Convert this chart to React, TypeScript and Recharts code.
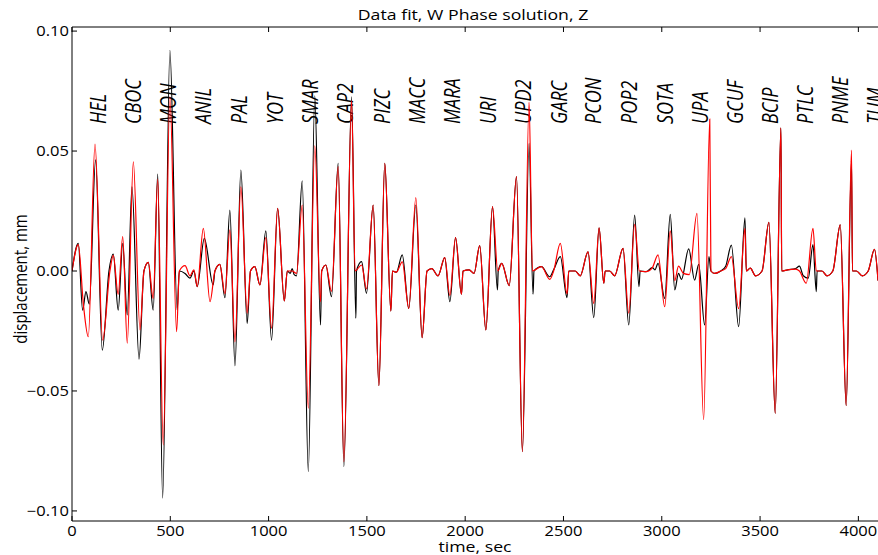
import { LineChart, Line, XAxis, YAxis, ReferenceLine } from "recharts";

// observed trace (black), seconds / mm
const obsTime = [
  0, 32, 54, 71, 88, 120, 154, 188, 210, 235, 258, 281, 305, 341, 366, 388, 413, 436, 461, 498,
  535, 546, 575, 600, 620, 637, 673, 718, 727, 752, 778, 803, 829, 859, 891, 908, 930, 956, 986,
  1015, 1046, 1080, 1095, 1110, 1120, 1130, 1142, 1171, 1202, 1235, 1264, 1270, 1291, 1320, 1354,
  1383, 1422, 1444, 1447, 1473, 1498, 1532, 1561, 1591, 1622, 1630, 1650, 1680, 1713, 1749, 1781,
  1806, 1830, 1862, 1896, 1922, 1951, 1981, 1989, 2020, 2045, 2074, 2105, 2139, 2164, 2168, 2186,
  2224, 2261, 2291, 2325, 2345, 2350, 2388, 2430, 2450, 2484, 2518, 2527, 2560, 2585, 2625, 2654,
  2681, 2705, 2712, 2735, 2760, 2803, 2832, 2862, 2884, 2890, 2920, 2952, 2965, 2981, 3015, 3043,
  3066, 3085, 3100, 3137, 3167, 3188, 3218, 3240, 3250, 3269, 3300, 3325, 3354, 3391, 3423, 3430,
  3450, 3477, 3510, 3545, 3577, 3606, 3610, 3640, 3680, 3700, 3720, 3745, 3769, 3786, 3790, 3815,
  3840, 3870, 3908, 3938, 3965, 3970, 3990, 4020, 4050, 4082, 4100,
];
const obsDisp = [
  0, 0.0115, -0.0163, -0.0086, -0.0138, 0.0463, -0.033, 0, 0.007, -0.0163, 0.0115, -0.0183, 0.0351,
  -0.0367, 0, 0.0036, -0.0163, 0.0404, -0.0947, 0.092, -0.0163, 0, -0.001, -0.003, 0, -0.0065,
  0.0136, -0.0058, 0, 0.0028, -0.0111, 0.0254, -0.0395, 0.0421, -0.0218, 0, 0.0018, -0.0058, 0.0167,
  -0.0288, 0.0261, -0.0125, 0, -0.001, 0.001, -0.0015, -0.002, 0.0376, -0.0836, 0.073, -0.0225, 0,
  0.0025, -0.0107, 0.0449, -0.0815, 0.0726, -0.0197, 0, 0.0039, -0.0093, 0.0275, -0.0478, 0.0449,
  -0.0167, 0, -0.0005, 0.0067, -0.0156, 0.0275, -0.0278, 0, 0.001, -0.002, 0.0056, -0.0128, 0.0139,
  -0.0097, 0, 0.0005, -0.001, 0.0106, -0.0246, 0.0268, -0.0079, 0, 0.0032, -0.0061, 0.0393, -0.0753,
  0.0532, -0.0097, 0, 0.0018, -0.0024, 0.0005, 0.006, -0.0111, 0, 0, -0.002, 0.008, -0.0194, 0.018,
  -0.0051, 0, 0, -0.002, 0.0094, -0.0225, 0.0233, -0.0065, 0, -0.0003, 0.0014, 0.0005, 0.0032,
  -0.0114, 0.0236, -0.0079, -0.001, -0.0035, 0.0092, -0.0038, 0.0028, -0.0225, 0.006, 0, -0.001, 0,
  0.002, 0.0108, -0.0232, 0.0222, 0, 0.0012, -0.002, 0, 0.0203, -0.0593, 0.0597, 0, 0.0005, 0.001,
  0.002, -0.002, -0.003, 0.011, -0.0086, 0, 0, -0.002, 0, 0.0192, -0.0561, 0.046, 0, 0, -0.002, 0,
  0.009, -0.004,
];

// synthetic trace (red)
const synTime = [
  0, 32, 58, 83, 117, 156, 193, 210, 235, 258, 281, 312, 346, 366, 388, 413, 436, 464, 498, 532, 546,
  575, 600, 620, 637, 668, 702, 727, 752, 778, 803, 829, 859, 891, 908, 930, 956, 986, 1015, 1046,
  1080, 1095, 1120, 1142, 1171, 1202, 1235, 1264, 1270, 1291, 1320, 1354, 1383, 1422, 1440, 1473,
  1498, 1532, 1561, 1591, 1622, 1630, 1650, 1680, 1713, 1749, 1781, 1806, 1830, 1862, 1896, 1922,
  1951, 1981, 1989, 2020, 2045, 2074, 2105, 2139, 2166, 2186, 2224, 2261, 2291, 2325, 2342, 2388,
  2430, 2450, 2484, 2518, 2527, 2560, 2585, 2625, 2654, 2681, 2705, 2712, 2735, 2760, 2803, 2832,
  2862, 2886, 2920, 2952, 2981, 3015, 3043, 3066, 3085, 3110, 3140, 3179, 3213, 3244, 3250, 3269,
  3300, 3325, 3354, 3391, 3423, 3430, 3450, 3477, 3510, 3545, 3577, 3606, 3610, 3640, 3680, 3700,
  3735, 3769, 3786, 3815, 3840, 3870, 3908, 3938, 3965, 3970, 3990, 4020, 4050, 4082, 4100,
];
const synDisp = [
  0, 0.011, -0.014, -0.0274, 0.0529, -0.0288, 0, 0.0065, -0.0097, 0.0143, -0.0301, 0.0455, -0.0246,
  0, 0.0036, -0.0114, 0.0383, -0.0725, 0.0726, -0.0253, 0, 0.0022, -0.002, 0.0005, -0.0065, 0.0178,
  -0.0128, 0, 0.0028, -0.0095, 0.0171, -0.0295, 0.0351, -0.0176, 0, 0.0018, -0.0058, 0.0139, -0.0239,
  0.0261, -0.0125, 0, 0, -0.001, 0.0275, -0.0572, 0.0522, -0.0128, 0, 0.0025, -0.0085, 0.0435,
  -0.0795, 0.071, 0, 0.0025, -0.0075, 0.0275, -0.0478, 0.0449, -0.0167, 0, -0.0005, 0.0038, -0.0156,
  0.0306, -0.0278, 0, 0.001, -0.002, 0.0056, -0.0102, 0.0139, -0.0097, 0, 0.0005, -0.001, 0.0106,
  -0.0246, 0.0268, 0, 0.0032, -0.0061, 0.0393, -0.0753, 0.0703, 0, 0.0018, -0.0035, 0, 0.0115,
  -0.0095, 0, 0, -0.002, 0.008, -0.0135, 0.018, -0.0051, 0, 0, -0.002, 0.0094, -0.0176, 0.0194, 0,
  -0.0003, 0.0014, 0.0067, -0.0149, 0.0167, -0.004, 0.002, -0.001, -0.0015, 0.024, -0.062, 0.0633,
  0, -0.001, 0, 0.001, 0.006, -0.0157, 0.0178, 0, 0.0012, -0.002, 0, 0.0203, -0.0593, 0.0597, 0,
  0.0005, 0.0008, 0, -0.0051, 0.0178, 0, 0, -0.002, 0, 0.0192, -0.0561, 0.0504, 0, 0, -0.002, 0,
  0.009, -0.004,
];

const stations = [
  "HEL", "CBOC", "MON", "ANIL", "PAL", "YOT", "SMAR", "CAP2", "PIZC", "MACC", "MARA", "URI",
  "UPD2", "GARC", "PCON", "POP2", "SOTA", "UPA", "GCUF", "BCIP", "PTLC", "PNME", "TUM",
];
const stationTime = [
  132, 311, 490, 667, 850, 1032, 1210, 1388, 1575, 1753, 1931, 2115, 2293, 2476, 2649, 2832, 3015,
  3193, 3371, 3549, 3727, 3904, 4082,
];

const xTicks = [0, 500, 1000, 1500, 2000, 2500, 3000, 3500, 4000];
const yTicks = [-0.1, -0.05, 0, 0.05, 0.1];

const X_MAX = 4110;
const Y_MIN = -0.1042;
const Y_MAX = 0.1017;

const PLOT_TOP = 27;
const PLOT_BOTTOM = 521;
const PLOT_LEFT = 72;
const FONT = "'Open Sans', sans-serif";
const STRETCH = 1.18; // the picture is a bit wider than tall

const observed = obsTime.map((t, i) => ({ t, v: obsDisp[i] }));
const synthetic = synTime.map((t, i) => ({ t, v: synDisp[i] }));

const fmtY = (v: number) => v.toFixed(2).replace("-", "\u2212");

function BottomTick(props: any) {
  const { x, y, payload } = props;
  return (
    <g>
      <line x1={x} x2={x} y1={PLOT_BOTTOM} y2={PLOT_BOTTOM - 5} stroke="#000" />
      <line x1={x} x2={x} y1={PLOT_TOP} y2={PLOT_TOP + 5} stroke="#000" />
      <text
        transform={`translate(${x},${y}) scale(${STRETCH},1)`}
        dy="0.72em"
        textAnchor="middle"
        fontSize={14}
        fontFamily={FONT}
        fill="#000"
      >
        {payload.value}
      </text>
    </g>
  );
}

function LeftTick(props: any) {
  const { x, y, payload } = props;
  return (
    <g>
      <line x1={PLOT_LEFT} x2={PLOT_LEFT + 5} y1={y} y2={y} stroke="#000" />
      <text
        transform={`translate(${x},${y}) scale(${STRETCH},1)`}
        dy="0.36em"
        textAnchor="end"
        fontSize={14}
        fontFamily={FONT}
        fill="#000"
      >
        {fmtY(payload.value)}
      </text>
    </g>
  );
}

function StationLabel({ viewBox, name }: any) {
  const x = viewBox.x;
  const y = 124;
  return (
    <text
      transform={`translate(${x},${y}) scale(${STRETCH},1) rotate(-90)`}
      dominantBaseline="central"
      fontSize={18}
      fontStyle="italic"
      fontFamily={FONT}
      fill="#000"
    >
      {name}
    </text>
  );
}

export default function App() {
  return (
    <div
      style={{
        position: "fixed",
        left: 0,
        top: 0,
        width: 878,
        height: 555,
        overflow: "hidden",
        background: "#fff",
        fontFamily: FONT,
      }}
    >
      <div
        style={{
          position: "absolute",
          left: 0,
          width: 946,
          top: 4,
          textAlign: "center",
          fontSize: 15,
          transform: `scaleX(${STRETCH})`,
        }}
      >
        Data fit, W Phase solution, Z
      </div>
      <div
        style={{
          position: "absolute",
          left: 20,
          top: 279,
          transform: `translate(-50%, -50%) scaleX(${STRETCH}) rotate(-90deg)`,
          whiteSpace: "nowrap",
          fontSize: 15,
        }}
      >
        displacement, mm
      </div>
      <div
        style={{
          position: "absolute",
          left: 0,
          width: 950,
          top: 539,
          lineHeight: "15px",
          textAlign: "center",
          fontSize: 15,
          transform: `scaleX(${STRETCH})`,
        }}
      >
        time, sec
      </div>
      <div style={{ position: "absolute", left: 0, top: 0 }}>
        <LineChart width={880} height={555} margin={{ top: PLOT_TOP, right: 0, bottom: 0, left: 0 }}>
          <XAxis
            type="number"
            dataKey="t"
            domain={[0, X_MAX]}
            ticks={xTicks}
            allowDataOverflow
            height={34}
            tickSize={0}
            tickMargin={5}
            tickLine={false}
            axisLine={{ stroke: "#000", strokeWidth: 1 }}
            tick={<BottomTick />}
          />
          <YAxis
            type="number"
            domain={[Y_MIN, Y_MAX]}
            ticks={yTicks}
            allowDataOverflow
            width={PLOT_LEFT}
            tickSize={0}
            tickMargin={3}
            tickLine={false}
            axisLine={{ stroke: "#000", strokeWidth: 1 }}
            tick={<LeftTick />}
          />
          <ReferenceLine y={Y_MAX} stroke="#000" strokeWidth={1} />
          {stations.map((name, i) => (
            <ReferenceLine
              key={name}
              x={stationTime[i]}
              stroke="none"
              label={(p: any) => <StationLabel viewBox={p.viewBox} name={name} />}
            />
          ))}
          <Line
            data={observed}
            dataKey="v"
            type="monotone"
            stroke="#000"
            strokeWidth={1.2}
            dot={false}
            activeDot={false}
            isAnimationActive={false}
          />
          <Line
            data={synthetic}
            dataKey="v"
            type="monotone"
            stroke="#ff0000"
            strokeWidth={1.2}
            dot={false}
            activeDot={false}
            isAnimationActive={false}
          />
        </LineChart>
      </div>
    </div>
  );
}
